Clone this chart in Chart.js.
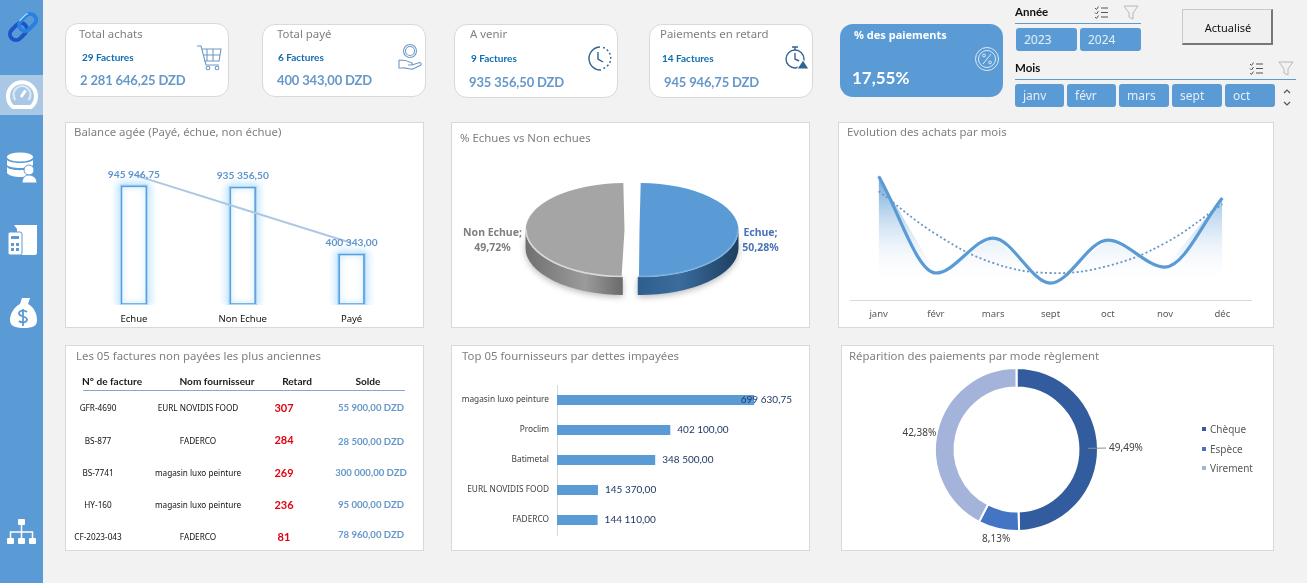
<!DOCTYPE html>
<html lang="fr">
<head>
<meta charset="utf-8">
<title>Tableau de bord fournisseurs</title>
<script src="https://cdn.jsdelivr.net/npm/chart.js@4"></script>
<style>
  html, body { margin: 0; padding: 0; background: #f2f2f2; }
  body { position: relative; width: 1307px; height: 583px; overflow: hidden; font-family: "Noto Sans", sans-serif; }
  .box { position: absolute; box-sizing: border-box; }
  .sidebar { left: 0; top: 0; width: 43px; height: 583px; background: #5b9bd5; }
  .active { left: 0; top: 75px; width: 43px; height: 40px; background: #a9c8e6; }
  .card { background: #fff; border: 1px solid #d9d9d9; border-radius: 13px; }
  .panel { background: #fff; border: 1px solid #d9d9d9; }
  .panel canvas { position: absolute; left: 0; top: 0; }
  .t { position: absolute; white-space: nowrap; line-height: 20px; height: 20px; }
  .c { transform: translateX(-50%); }
  .title { font-size: 11.4px; color: #7f7f7f; }
  .count { font: bold 10px/20px Lato, sans-serif; color: #0f6cb0; }
  .amount { font: bold 13px/20px Lato, sans-serif; color: #6598c9; letter-spacing: -.15px; }
  .head { font: bold 10.1px/20px Lato, sans-serif; color: #1a1a1a; }
  .cell { font-size: 8.2px; color: #111; }
  .late { font: bold 11px/20px Lato, sans-serif; color: #e3000f; }
  .due { font: bold 9.6px/20px Lato, sans-serif; color: #6598c9; }
  .chip { background: #5b9bd5; border-radius: 3px; color: #e4eef8; font-size: 12px; line-height: 23px; padding-left: 8px; }
  .slicer { font: bold 11.5px/20px Lato, sans-serif; color: #111; }
  .rule { background: #5b9bd5; height: 1px; }
  .legend { font-size: 10px; color: #595959; }
  svg { position: absolute; overflow: visible; left: 0; top: 0; }
</style>
</head>
<body>
<div class="box sidebar"></div>
<div class="box active"></div>
<div class="box card" style="left:65px;top:23px;width:164px;height:74px"></div>
<div class="box card" style="left:262px;top:24px;width:164px;height:73px"></div>
<div class="box card" style="left:454px;top:24px;width:164px;height:74px"></div>
<div class="box card" style="left:649px;top:24px;width:164px;height:74px"></div>
<div class="box" style="left:840px;top:24px;width:163px;height:73px;background:#5b9bd5;border-radius:13px"></div>
<div class="box" style="left:1182px;top:9px;width:91px;height:36px;background:#f0f0f0;border:1px solid #c8c8c8;border-right:2px solid #777;border-bottom:2px solid #777"></div>
<div class="box rule" style="left:1015px;top:23px;width:126px"></div>
<div class="box rule" style="left:1015px;top:79px;width:281px"></div>

<div class="box panel" style="left:65px;top:122px;width:359px;height:206px"><canvas id="agingChart" width="357" height="204"></canvas></div>
<div class="box panel" style="left:451px;top:122px;width:359px;height:206px"><canvas id="shareChart" width="357" height="204"></canvas></div>
<div class="box panel" style="left:838px;top:122px;width:436px;height:206px"><canvas id="monthlyChart" width="434" height="204"></canvas></div>
<div class="box panel" style="left:65px;top:345px;width:359px;height:206px"></div>
<div class="box panel" style="left:451px;top:345px;width:359px;height:206px"><canvas id="supplierChart" width="357" height="204"></canvas></div>
<div class="box panel" style="left:841px;top:345px;width:433px;height:206px"><canvas id="modeChart" width="431" height="204"></canvas></div>
<div class="box" style="left:83px;top:390px;width:322px;height:1px;background:#7fa9d6"></div>

<svg width="1307" height="583" fill="none">
  <!-- navigation icons -->
  <g transform="rotate(-45 23 27)" stroke-width="4">
    <rect x="7" y="21" width="19" height="12" rx="6" stroke="#1a56c8"/>
    <rect x="20" y="21" width="19" height="12" rx="6" stroke="#2a80e2"/>
    <path d="M25 21h8a6 6 0 0 1 3 1" stroke="#a6dcf8" stroke-width="1.400" transform="translate(0 -1)"/>
  </g>
  <g stroke="#fff">
    <path d="M13 107a14 14 0 1 1 18 0z" stroke-width="4" stroke-linejoin="round"/>
    <path d="M15.500 100a8.500 8.500 0 1 1 13 0" stroke-width="2.200" opacity=".6"/>
    <path d="M21 97l4.500-6.500" stroke-width="3"/>
  </g>
  <g fill="#fff">
    <ellipse cx="20" cy="157" rx="13" ry="4.500"/>
    <path d="M7 160c3 4 23 4 26 0v5c-3 4-23 4-26 0zM7 167c3 4 20 4 24 1l1 1-3 7c-8 2-19 1-22-3z"/>
    <circle cx="29" cy="170" r="5" stroke="#5b9bd5"/>
    <path d="M22 183c0-6 4-8 7-8s8 2 8 8z" stroke="#5b9bd5"/>
    <path d="M14 225h23v28a2 2 0 0 1-2 2H17v-26zM19 225h18v4H19z"/>
    <rect x="8" y="232" width="14" height="23" rx="2" stroke="#5b9bd5"/>
    <path d="M22 298h8l-2 6c6 3 9 10 9 16 0 6-4 8-13 8s-14-2-14-8c0-6 4-13 10-16z"/>
    <rect x="18" y="519" width="7" height="6" rx="1"/>
    <rect x="7" y="538" width="7" height="6" rx="1"/>
    <rect x="18" y="538" width="7" height="6" rx="1"/>
    <rect x="29" y="538" width="7" height="6" rx="1"/>
  </g>
  <path d="M21.500 525v13M10.500 538v-6h22v6" stroke="#fff" stroke-width="1.500"/>
  <path d="M27 312c-2-2-8-2-8 1.500s8 2.500 8 6-6 3.500-8 1.500M23 309v17" stroke="#5b9bd5" stroke-width="1.800"/>
  <g fill="#5b9bd5"><rect x="11" y="236" width="8" height="3"/><rect x="11" y="243" width="3" height="3"/><rect x="16" y="243" width="3" height="3"/><rect x="11" y="248" width="3" height="3"/><rect x="16" y="248" width="3" height="3"/></g>

  <!-- card icons -->
  <g stroke="#6f9ac4" stroke-width="1.100">
    <path d="M197 46h4l5 19h13M202 49h19l-2 12h-15M207 49v12M213 49v12M203 55h17"/>
    <circle cx="208" cy="68" r="1.800"/><circle cx="217" cy="68" r="1.800"/>
    <circle cx="410" cy="51" r="6.500"/><circle cx="410" cy="51" r="4.500"/>
    <path d="M399 60v8h3c4-1 8 2 11 1l8-4c1-2-1-3-3-2l-6 2h-4m4 0c1-2-1-3-3-3-3-2-6-2-10-2"/>
  </g>
  <g stroke="#2f6494" stroke-width="1.400">
    <path d="M600 47a11 11 0 1 0 1 23" />
    <path d="M603 47.500a11 11 0 0 1 0 21" stroke-dasharray="2 2.200"/>
    <path d="M598 52v7l5 3"/>
    <circle cx="795" cy="59" r="9"/><path d="M795 47v3M792 47h6M795 53v6l4 2"/>
  </g>
  <path d="M803 60l6 9h-12z" fill="#2f6494" stroke="#fff"/>
  <g stroke="#dceaf6" stroke-width="1">
    <circle cx="987" cy="59" r="11.500"/><circle cx="987" cy="59" r="8.500"/>
    <path d="M983 64l8-10"/><circle cx="984" cy="55.500" r="1.400"/><circle cx="990" cy="62.500" r="1.400"/>
  </g>

  <!-- slicer header icons -->
  <g stroke="#555" stroke-width="1">
    <path d="M1101 8h7M1101 12.500h7M1101 17h7M1095 8l1.500 1.500 2-3M1095 12.500l1.500 1.500 2-3M1095 17l1.500 1.500 2-3"/>
    <path d="M1256 64h7M1256 68.500h7M1256 73h7M1250 64l1.500 1.500 2-3M1250 68.500l1.500 1.500 2-3M1250 73l1.500 1.500 2-3"/>
  </g>
  <g stroke="#b7b7b7" stroke-width="1">
    <path d="M1124 6h14l-5 7v6l-4-2v-4z"/><path d="M1279 62h14l-5 7v6l-4-2v-4z"/>
  </g>
  <path d="M1284 93l3-3 3 3M1284 102l3 3 3-3" stroke="#555" stroke-width="1.200"/>
</svg>

<script>
const kpiTitles = ['Total achats', 'Total payé', 'A venir', 'Paiements en retard'];
const kpiCounts = ['29 Factures', '6 Factures', '9 Factures', '14 Factures'];
const kpiAmounts = ['2 281 646,25 DZD', '400 343,00 DZD', '935 356,50 DZD', '945 946,75 DZD'];
const paidRate = '17,55%';

const yearOptions = ['2023', '2024'];
const monthOptions = ['janv', 'févr', 'mars', 'sept', 'oct'];

const agingLabels = ['Echue', 'Non Echue', 'Payé'];
const agingValues = [945946.75, 935356.5, 400343];
const agingTrend = [1033349, 760548, 487747];

const shareLabels = ['Echue', 'Non Echue'];
const shareValues = [50.28, 49.72];

const months = ['janv', 'févr', 'mars', 'sept', 'oct', 'nov', 'déc'];
const monthlyPurchases = [665000, 145000, 333000, 91000, 322000, 177000, 548000];
const monthlyTrend = [585000, 354000, 199000, 145000, 183000, 306000, 515000];

const tableHeaders = ['N° de facture', 'Nom fournisseur', 'Retard', 'Solde'];
const invoiceNumbers = ['GFR-4690', 'BS-877', 'BS-7741', 'HY-160', 'CF-2023-043'];
const invoiceSuppliers = ['EURL NOVIDIS FOOD', 'FADERCO', 'magasin luxo peinture', 'magasin luxo peinture', 'FADERCO'];
const invoiceDelays = [307, 284, 269, 236, 81];
const invoiceBalances = ['55 900,00 DZD', '28 500,00 DZD', '300 000,00 DZD', '95 000,00 DZD', '78 960,00 DZD'];

const supplierNames = ['magasin luxo peinture', 'Proclim', 'Batimetal', 'EURL NOVIDIS FOOD', 'FADERCO'];
const supplierDebts = [699630.75, 402100, 348500, 145370, 144110];

const paymentModes = ['Chèque', 'Espèce', 'Virement'];
const paymentShares = [49.49, 8.13, 42.38];
const paymentColors = ['#335c9f', '#4474c4', '#a3b3d9'];

const blue = '#5b9bd5';

const money = v => {
  const [whole, dec] = v.toFixed(2).split('.');
  return whole.replace(/\B(?=(\d{3})+$)/g, ' ') + ',' + dec;
};
const percent = v => v.toFixed(2).replace('.', ',') + '%';

// places one line of text with its vertical middle on y
function put(x, y, text, cls, centered, extra) {
  const el = document.createElement('div');
  el.className = 't ' + cls + (centered ? ' c' : '');
  el.style.left = x + 'px';
  el.style.top = (y - 10) + 'px';
  el.textContent = text;
  if (extra) el.style.cssText += extra;
  document.body.appendChild(el);
  return el;
}

// KPI cards
const cardX = [[79, 82, 80], [277, 278, 277], [470, 471, 469], [660, 662, 664]];
const cardY = [[34, 57, 80], [34, 57, 80], [34, 58, 82], [34, 58, 82]];
kpiTitles.forEach((title, i) => {
  put(cardX[i][0], cardY[i][0], title, 'title');
  put(cardX[i][1], cardY[i][1], kpiCounts[i], 'count');
  put(cardX[i][2], cardY[i][2], kpiAmounts[i], 'amount');
});
put(854, 35, '% des paiements', '', false, 'font:bold 11px/20px "Noto Sans";color:#fff');
put(852, 78, paidRate, '', false, 'font:bold 17px/20px Lato;color:#fff');

// slicers
put(1015, 12, 'Année', 'slicer');
put(1015, 68, 'Mois', 'slicer');
put(1228, 28, 'Actualisé', '', true, 'font-size:11px;color:#111');
const yearLeft = [1016, 1080];
yearOptions.forEach((y, i) => {
  const el = put(yearLeft[i], 38, y, 'chip');
  el.style.cssText += 'width:53px;height:23px;line-height:23px';
});
const monthLeft = [1015, 1067, 1119, 1172, 1225];
monthOptions.forEach((m, i) => {
  const el = put(monthLeft[i], 94, m, 'chip');
  el.style.cssText += 'width:' + (i < 2 ? 41 : 42) + 'px;height:23px;line-height:23px';
});

// chart titles
put(74, 132, 'Balance agée (Payé, échue, non échue)', 'title');
put(460, 138, '% Echues vs Non echues', 'title');
put(847, 132, 'Evolution des achats par mois', 'title');
put(76, 356, 'Les 05 factures non payées les plus anciennes', 'title');
put(462, 356, 'Top 05 fournisseurs par dettes impayées', 'title');
put(849, 356, 'Réparition des paiements par mode règlement', 'title');

// oldest unpaid invoices
const headerX = [112, 217, 297, 368];
tableHeaders.forEach((h, i) => put(headerX[i], 381, h, 'head', true));
const rowY = [408, 441, 473, 505, 537];
invoiceNumbers.forEach((n, i) => {
  put(98, rowY[i], n, 'cell', true);
  put(198, rowY[i], invoiceSuppliers[i], 'cell', true);
  put(284, rowY[i] - (i === 1 ? 1 : 0), String(invoiceDelays[i]), 'late', true);
  put(371, rowY[i] + (i === 1 ? 1 : 0) - (i === 4 ? 2 : 0), invoiceBalances[i], 'due', true);
});

// payment mode legend
const legendY = [429, 449, 468];
paymentModes.forEach((m, i) => {
  put(1210, legendY[i], m, 'legend');
  const dot = document.createElement('div');
  dot.className = 'box';
  dot.style.cssText = 'left:1202px;top:' + (legendY[i] - 2) + 'px;width:4px;height:4px;background:' + paymentColors[i];
  document.body.appendChild(dot);
});

Chart.defaults.animation = false;
Chart.defaults.font.family = '"Noto Sans", sans-serif';
Chart.defaults.plugins.legend.display = false;
Chart.defaults.plugins.tooltip.enabled = false;

// strokes a bar outline with a soft shadow; bars themselves clip to their box so the glow is added here
function strokeGlow(ctx, bar, inside) {
  const left = bar.x - bar.width / 2;
  ctx.save();
  ctx.beginPath();
  if (inside) ctx.rect(left, bar.y, bar.width, bar.base - bar.y);
  else ctx.rect(0, 0, ctx.canvas.width, bar.base + 1);
  ctx.clip();
  ctx.shadowColor = '#7cc4f8';
  ctx.shadowBlur = inside ? 6 : 8;
  ctx.strokeStyle = inside ? blue : '#a8d8fa';
  ctx.lineWidth = inside ? 1.5 : 2;
  ctx.strokeRect(left, bar.y, bar.width, bar.base - bar.y);
  if (!inside) ctx.strokeRect(left, bar.y, bar.width, bar.base - bar.y);
  ctx.restore();
}

// Aged balance: outlined bars with a glow, plus the linear trend line
new Chart(document.getElementById('agingChart'), {
  type: 'bar',
  data: {
    labels: agingLabels,
    datasets: [
      { label: 'Tendance', type: 'line', data: agingTrend, borderColor: '#adc8e4', borderWidth: 2, pointRadius: 0, order: 0 },
      { label: 'Balance', data: agingValues, backgroundColor: '#fff', borderColor: blue, borderWidth: 1.5, barPercentage: 0.2385, categoryPercentage: 1, order: 1 }
    ]
  },
  options: {
    responsive: false,
    layout: { padding: { left: 13.5, right: 17, top: 31 } },
    scales: {
      x: {
        grid: { display: false }, border: { display: false },
        ticks: { color: '#111', font: { size: 9.5 }, padding: 2 },
        afterFit: s => { s.height = 23; }
      },
      y: { display: false, min: 0, max: 1200000 }
    }
  },
  plugins: [{
    id: 'barGlow',
    beforeDatasetDraw(chart, args) {
      if (args.index === 1) chart.getDatasetMeta(1).data.forEach(bar => strokeGlow(chart.ctx, bar, false));
    },
    afterDatasetDraw(chart, args) {
      if (args.index === 1) chart.getDatasetMeta(1).data.forEach(bar => strokeGlow(chart.ctx, bar, true));
    },
    afterDatasetsDraw(chart) {
      const ctx = chart.ctx;
      ctx.save();
      ctx.font = 'bold 10.2px Lato, sans-serif';
      ctx.fillStyle = '#5f95ca';
      ctx.textAlign = 'center';
      ctx.textBaseline = 'middle';
      chart.getDatasetMeta(1).data.forEach((bar, i) => ctx.fillText(money(agingValues[i]), bar.x, bar.y - 11));
      ctx.restore();
    }
  }]
});

// Due vs not due: pie squashed into an ellipse, standing on a shaded wall
const pieTilt = 0.475;
const pieDepth = 18;
const wallShades = [['#2f5f8e', '#3a6c9c', '#1d3f60'], ['#707070', '#9b9b9b', '#686868']];
const shareTextColors = ['#4a72b8', '#7f7f7f'];
const shareLabelGap = [22, 33];

// an offset arc is moved along its bisector and also drawn wider by the same amount
function arcFace(arc) {
  const mid = (arc.startAngle + arc.endAngle) / 2;
  const shift = (arc.options.offset || 0) / 4;
  const rx = arc.outerRadius + shift;
  return { cx: arc.x + Math.cos(mid) * shift, cy: arc.y + Math.sin(mid) * shift * pieTilt, rx, ry: rx * pieTilt };
}

new Chart(document.getElementById('shareChart'), {
  type: 'pie',
  data: {
    labels: shareLabels,
    datasets: [{ data: shareValues, backgroundColor: [blue, '#a5a5a5'], borderWidth: 0, offset: 30, radius: 91.5, clip: false }]
  },
  options: {
    responsive: false,
    layout: { padding: { left: 3, top: 10 } }
  },
  plugins: [{
    id: 'pieWall',
    beforeDatasetsDraw(chart) {
      const ctx = chart.ctx;
      chart.getDatasetMeta(0).data.forEach((arc, i) => {
        const { cx, cy, rx, ry } = arcFace(arc);
        const from = Math.max(arc.startAngle, 0), to = Math.min(arc.endAngle, Math.PI);
        const grad = ctx.createLinearGradient(cx - rx, 0, cx + rx, 0);
        const shade = wallShades[i];
        if (i === 0) {
          grad.addColorStop(0.5, shade[0]); grad.addColorStop(0.7, shade[1]); grad.addColorStop(1, shade[2]);
        } else {
          grad.addColorStop(0, shade[0]); grad.addColorStop(0.3, shade[1]); grad.addColorStop(0.5, shade[2]);
        }
        ctx.save();
        ctx.shadowColor = 'rgba(0,0,0,.28)';
        ctx.shadowBlur = 6;
        ctx.shadowOffsetY = 2;
        ctx.fillStyle = grad;
        ctx.beginPath();
        ctx.ellipse(cx, cy, rx, ry, 0, from, to);
        ctx.ellipse(cx, cy + pieDepth, rx, ry, 0, to, from, true);
        ctx.closePath();
        ctx.fill();
        ctx.restore();
      });
    },
    beforeDatasetDraw(chart) {
      const ctx = chart.ctx, arc = chart.getDatasetMeta(0).data[0];
      ctx.save();
      ctx.translate(arc.x, arc.y);
      ctx.scale(1, pieTilt);
      ctx.translate(-arc.x, -arc.y);
    },
    afterDatasetDraw(chart) {
      chart.ctx.restore();
    },
    afterDatasetsDraw(chart) {
      const ctx = chart.ctx;
      chart.getDatasetMeta(0).data.forEach((arc, i) => {
        const { cx, cy, rx, ry } = arcFace(arc);
        // bevel along the front rim
        ctx.save();
        ctx.strokeStyle = i === 0 ? 'rgba(150,195,235,.5)' : 'rgba(225,225,225,.85)';
        ctx.lineWidth = 1.6;
        ctx.beginPath();
        ctx.ellipse(cx, cy - 0.5, rx - 0.5, ry, 0, Math.max(arc.startAngle, 0), Math.min(arc.endAngle, Math.PI));
        ctx.stroke();
        ctx.restore();
        // slice label
        const sign = i === 0 ? 1 : -1;
        const lx = cx + sign * (rx + shareLabelGap[i]);
        ctx.save();
        ctx.font = 'bold 10.5px "Noto Sans", sans-serif';
        ctx.fillStyle = shareTextColors[i];
        ctx.textAlign = 'center';
        ctx.textBaseline = 'middle';
        ctx.fillText(shareLabels[i] + ';', lx, arc.y + 3);
        ctx.fillText(percent(shareValues[i]), lx, arc.y + 18);
        ctx.restore();
      });
    }
  }]
});

// Monthly purchases: curve, straight shaded area and dotted polynomial trend
new Chart(document.getElementById('monthlyChart'), {
  type: 'line',
  data: {
    labels: months,
    datasets: [
      { label: 'Achats', data: monthlyPurchases, borderColor: blue, borderWidth: 3.2, cubicInterpolationMode: 'monotone', pointRadius: 0, order: 0 },
      { label: 'Tendance', data: monthlyTrend, borderColor: '#6a95c6', borderWidth: 1.8, borderDash: [2, 2.5], tension: 0.4, pointRadius: 0, order: 1 },
      {
        label: 'Zone', data: monthlyPurchases, borderWidth: 0, borderColor: 'transparent', pointRadius: 0, tension: 0, fill: 'origin', order: 2,
        backgroundColor: c => {
          const area = c.chart.chartArea;
          if (!area) return 'transparent';
          const g = c.chart.ctx.createLinearGradient(0, area.top + 35, 0, area.bottom - 16);
          g.addColorStop(0, 'rgba(91,155,213,.95)');
          g.addColorStop(1, 'rgba(255,255,255,0)');
          return g;
        }
      }
    ]
  },
  options: {
    responsive: false,
    layout: { padding: { left: 11, right: 22, top: 17 } },
    scales: {
      x: {
        offset: true,
        grid: { display: false }, border: { color: '#d9d9d9' },
        ticks: { color: '#595959', font: { size: 9.5 }, padding: 1 },
        afterFit: s => { s.height = 27; }
      },
      y: { display: false, min: 0, max: 860000 }
    }
  }
});

// Top suppliers by unpaid debt
new Chart(document.getElementById('supplierChart'), {
  type: 'bar',
  data: { labels: supplierNames, datasets: [{ data: supplierDebts, backgroundColor: blue, barPercentage: 0.34, categoryPercentage: 1 }] },
  options: {
    indexAxis: 'y',
    responsive: false,
    layout: { padding: { top: 39, bottom: 15, right: 17 } },
    scales: {
      x: { display: false, min: 0, max: 834000 },
      y: {
        grid: { display: false, drawTicks: false }, border: { color: '#d9d9d9' },
        ticks: { color: '#404040', font: { size: 8.3 }, padding: 8, autoSkip: false },
        afterFit: s => { s.width = 105; }
      }
    }
  },
  plugins: [{
    id: 'debtLabels',
    afterDatasetsDraw(chart) {
      const ctx = chart.ctx;
      ctx.save();
      ctx.font = '10px Lato, sans-serif';
      ctx.fillStyle = '#1f3864';
      ctx.textBaseline = 'middle';
      chart.getDatasetMeta(0).data.forEach((bar, i) => {
        const text = money(supplierDebts[i]);
        const x = Math.min(bar.x + 7, chart.chartArea.right - ctx.measureText(text).width);
        ctx.fillText(text, x, bar.y);
      });
      ctx.restore();
    }
  }]
});

// Payment modes doughnut with outside labels
const modeLabelRadius = [109.5, 92, 100];
const modeLabelNudge = [0, 0, 7];
new Chart(document.getElementById('modeChart'), {
  type: 'doughnut',
  data: { labels: paymentModes, datasets: [{ data: paymentShares, backgroundColor: paymentColors, borderColor: '#fff', borderWidth: 2, radius: 81.5, clip: false }] },
  options: {
    responsive: false,
    cutout: '76%',
    layout: { padding: { right: 82, top: 3 } }
  },
  plugins: [{
    id: 'modeLabels',
    afterDatasetsDraw(chart) {
      const ctx = chart.ctx;
      ctx.save();
      ctx.font = '10px "Noto Sans", sans-serif';
      ctx.fillStyle = '#404040';
      ctx.textAlign = 'center';
      ctx.textBaseline = 'middle';
      chart.getDatasetMeta(0).data.forEach((arc, i) => {
        const mid = (arc.startAngle + arc.endAngle) / 2;
        const r = modeLabelRadius[i];
        ctx.fillText(percent(paymentShares[i]), arc.x + Math.cos(mid) * r, arc.y + Math.sin(mid) * r + modeLabelNudge[i]);
        if (i === 0) {
          // leader line from the ring to the label
          ctx.strokeStyle = '#8c8c8c';
          ctx.beginPath();
          ctx.moveTo(arc.x + Math.cos(mid) * (arc.outerRadius - 10), arc.y + Math.sin(mid) * (arc.outerRadius - 10));
          ctx.lineTo(arc.x + Math.cos(mid) * (r - 20), arc.y + Math.sin(mid) * (r - 20));
          ctx.stroke();
        }
      });
      ctx.restore();
    }
  }]
});
</script>
</body>
</html>
